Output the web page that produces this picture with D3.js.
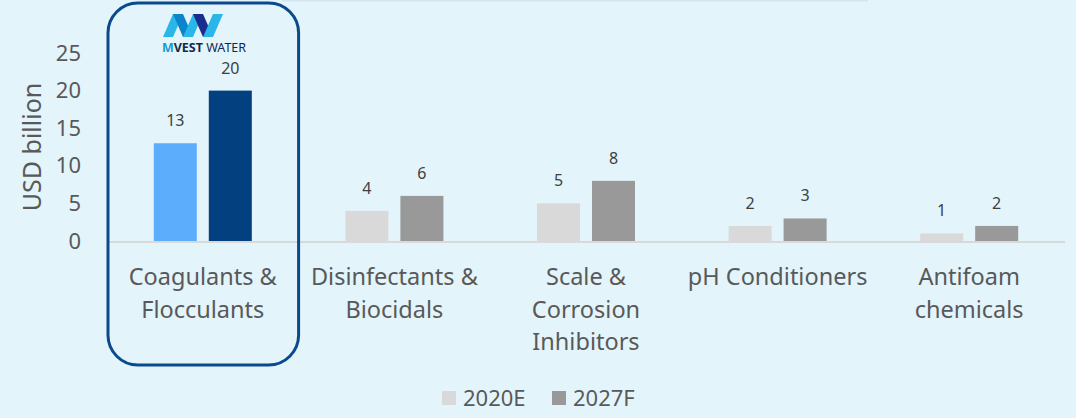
<!DOCTYPE html>
<html>
<head>
<meta charset="utf-8">
<script src="https://cdn.jsdelivr.net/npm/d3@7"></script>
<style>
  html, body { margin: 0; padding: 0; background: #e3f4fb; overflow: hidden; }
  svg { display: block; font-family: "Noto Sans", sans-serif; }
</style>
</head>
<body>
<svg id="chart" width="1076" height="418"></svg>
<script>
// Water treatment chemicals market size, USD billion
const categories = [
  "Coagulants & Flocculants",
  "Disinfectants & Biocidals",
  "Scale & Corrosion Inhibitors",
  "pH Conditioners",
  "Antifoam chemicals"
];
const categoryLines = [
  ["Coagulants &", "Flocculants"],
  ["Disinfectants &", "Biocidals"],
  ["Scale &", "Corrosion", "Inhibitors"],
  ["pH Conditioners"],
  ["Antifoam", "chemicals"]
];
const series = ["2020E", "2027F"];
const values2020E = [13, 4, 5, 2, 1];
const values2027F = [20, 6, 8, 3, 2];
const yTicks = [0, 5, 10, 15, 20, 25];
const highlighted = "Coagulants & Flocculants";

const seriesColors = { "2020E": "#d9d9d9", "2027F": "#999999" };
const highlightColors = { "2020E": "#5dadfd", "2027F": "#02407f" };

const svg = d3.select("#chart");
const W = 1076, H = 418;

svg.append("rect").attr("width", W).attr("height", H).attr("fill", "#e3f4fb");

// faint rule under the heading band
svg.append("rect").attr("x", 282).attr("y", 0).attr("width", 586).attr("height", 1.5)
  .attr("fill", "#d3e6f0");

const x = d3.scaleBand().domain(categories).range([107, 1065]).padding(0);
const y = d3.scaleLinear().domain([0, 25]).range([241, 53]);
const bw = x.bandwidth();
const x1 = d3.scaleBand().domain(series).range([bw / 2 - 49, bw / 2 + 49]).paddingInner(0.218);

const rows = categories.map((c, i) => ({
  category: c,
  lines: categoryLines[i],
  values: [
    { key: "2020E", value: values2020E[i] },
    { key: "2027F", value: values2027F[i] }
  ]
}));

// baseline
svg.append("line")
  .attr("x1", x.range()[0]).attr("x2", x.range()[1])
  .attr("y1", y(0) + 1).attr("y2", y(0) + 1)
  .attr("stroke", "#d9d9d9").attr("stroke-width", 2);

// y axis
const yAxis = svg.append("g")
  .attr("transform", `translate(${x.range()[0]},0)`)
  .call(d3.axisLeft(y).tickValues(yTicks).tickSize(0).tickPadding(26));
yAxis.select(".domain").remove();
yAxis.selectAll("text")
  .attr("font-family", "'Noto Sans', sans-serif")
  .attr("font-size", 22).attr("fill", "#595959");

svg.append("text")
  .attr("transform", `translate(31,${(y(0) + y(25)) / 2}) rotate(-90)`)
  .attr("text-anchor", "middle").attr("dominant-baseline", "central")
  .attr("font-size", 25).attr("fill", "#595959")
  .text("USD billion");

// bars and value labels
const groups = svg.append("g").selectAll("g").data(rows).join("g")
  .attr("transform", d => `translate(${x(d.category)},0)`);

groups.selectAll("rect").data(d => d.values.map(v => ({ ...v, hl: d.category === highlighted })))
  .join("rect")
  .attr("x", d => x1(d.key))
  .attr("width", x1.bandwidth())
  .attr("y", d => y(d.value))
  .attr("height", d => y(0) - y(d.value))
  .attr("fill", d => (d.hl ? highlightColors : seriesColors)[d.key]);

groups.selectAll("text.val").data(d => d.values).join("text")
  .attr("class", "val")
  .attr("x", d => x1(d.key) + x1.bandwidth() / 2)
  .attr("y", d => y(d.value) - 17)
  .attr("text-anchor", "middle")
  .attr("font-size", 16).attr("fill", "#404040")
  .text(d => d3.format(".0f")(d.value));

// category labels
groups.append("text")
  .attr("text-anchor", "middle")
  .attr("font-size", 23.5).attr("fill", "#595959")
  .selectAll("tspan").data(d => d.lines).join("tspan")
  .attr("x", bw / 2)
  .attr("y", (d, i) => 285 + i * 32.5)
  .text(d => d);

// highlight frame around the featured category
svg.append("rect")
  .attr("x", x(highlighted) + 1).attr("y", 3)
  .attr("width", bw - 1).attr("height", 362)
  .attr("rx", 30).attr("ry", 30)
  .attr("fill", "none").attr("stroke", "#0a4a8c").attr("stroke-width", 3);

// brand mark
const logo = svg.append("g").attr("transform", "translate(163,14)");
const t = 10, s = 10, h = 23;
const strokes = [
  { dir: "/", b: 0, c: "#2ab6e9" },
  { dir: "\\", b: 10, c: "#0b84cc" },
  { dir: "/", b: 20, c: "#2ab6e9" },
  { dir: "\\", b: 30, c: "#1b2c8f" },
  { dir: "/", b: 40, c: "#2ab6e9" }
];
logo.selectAll("polygon").data(strokes).join("polygon")
  .attr("points", d => d.dir === "/"
    ? [[d.b, h], [d.b + t, h], [d.b + s + t, 0], [d.b + s, 0]].join(" ")
    : [[d.b, 0], [d.b + t, 0], [d.b + s + t, h], [d.b + s, h]].join(" "))
  .attr("fill", d => d.c);

const brand = svg.append("text")
  .attr("x", 204).attr("y", 52).attr("text-anchor", "middle")
  .attr("font-size", 12.5).attr("fill", "#14284b");
brand.append("tspan").attr("font-weight", "bold").attr("fill", "#1a9ad6").text("M");
brand.append("tspan").attr("font-weight", "bold").text("VEST");
brand.append("tspan").text(" WATER");

// legend
const legend = svg.append("g").selectAll("g").data(series).join("g")
  .attr("transform", (d, i) => `translate(${442 + i * 110},391)`);
legend.append("rect").attr("width", 14).attr("height", 14)
  .attr("fill", d => seriesColors[d]);
legend.append("text").attr("x", 21).attr("y", 15)
  .attr("font-size", 22).attr("fill", "#595959")
  .text(d => d);
</script>
</body>
</html>
